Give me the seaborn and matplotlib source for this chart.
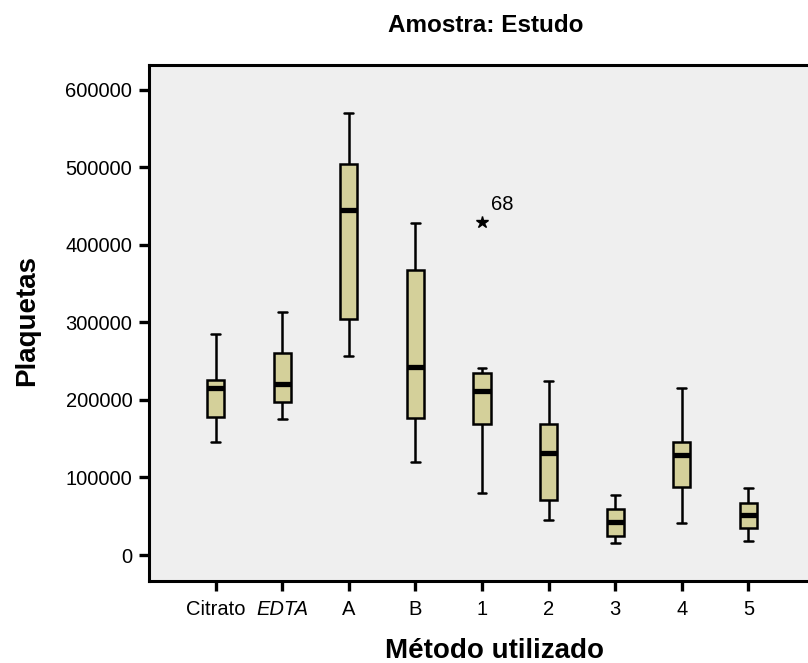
import numpy as np
import pandas as pd
import seaborn as sns
import matplotlib.pyplot as plt

# ---- data ----
methods = ["Citrato", "EDTA", "A", "B", "1", "2", "3", "4", "5"]
whisker_low = [146000, 175000, 257000, 120000, 80000, 45000, 16000, 41500, 17500]
q1 = [178000, 197000, 304500, 177000, 169000, 71000, 24500, 88000, 34600]
median = [215600, 220800, 445000, 243000, 212000, 132000, 42400, 129000, 51000]
q3 = [226000, 260000, 504000, 367700, 234800, 169000, 59000, 146000, 67000]
whisker_high = [285000, 313000, 570000, 428000, 241000, 224000, 78000, 215600, 87000]
outlier_method = ["1"]
outlier_value = [429000]
outlier_case = ["68"]
yticks = [0, 100000, 200000, 300000, 400000, 500000, 600000]

# Build a sample per group whose boxplot statistics reproduce the summary
rows = []
for m, lo, a, md, b, hi in zip(methods, whisker_low, q1, median, q3, whisker_high):
    vals = [lo, a, a, md, md, b, b, hi]
    for om, ov in zip(outlier_method, outlier_value):
        if om == m:
            vals.append(ov)
    for v in vals:
        rows.append({"Método utilizado": m, "Plaquetas": v})
df = pd.DataFrame(rows)

sns.set_style("white")
plt.rcParams["font.family"] = ["Liberation Sans", "DejaVu Sans"]
plt.rcParams["text.color"] = "black"
plt.rcParams["axes.labelcolor"] = "black"

fig = plt.figure(figsize=(8.08, 6.63), dpi=100)
W, H = 808, 663
ax = fig.add_axes([149 / W, 1 - 581 / H, 666 / W, (581 - 65) / H])
ax.set_facecolor("#EFEFEF")

sns.boxplot(
    data=df, x="Método utilizado", y="Plaquetas", order=methods,
    width=0.26, color="#D4D09A", saturation=1, linecolor="black",
    linewidth=1.8, whis=1.5, ax=ax,
    medianprops=dict(linewidth=3.8),
    flierprops=dict(marker="*", markersize=9, markerfacecolor="black",
                    markeredgecolor="black"),
)

# case label for the outlier
for om, ov, oc in zip(outlier_method, outlier_value, outlier_case):
    xi = methods.index(om)
    ax.text(xi + 0.13, ov + 23000, oc, fontsize=14.5, ha="left", va="center",
            color="black")

ax.set_xlim(-1.0, 9.0)
ax.set_ylim(-33500, 632000)
ax.set_yticks(yticks)
ax.set_yticklabels([str(v) for v in yticks])

for s in ax.spines.values():
    s.set_visible(True)
    s.set_color("black")
    s.set_linewidth(2.2)

ax.tick_params(axis="both", direction="out", length=7, width=2.4,
               labelsize=14.5, colors="black", left=True, bottom=True)
ax.tick_params(axis="y", pad=5)
ax.tick_params(axis="x", pad=7)
ax.get_xticklabels()[1].set_style("italic")

ax.set_xlabel("Método utilizado", fontsize=20, fontweight="bold", va="center",
              color="black")
ax.xaxis.set_label_coords((495 - 149) / 666, (581 - 651) / 516)
ax.set_ylabel("Plaquetas", fontsize=20, fontweight="bold", va="center",
              color="black")
ax.yaxis.set_label_coords((27 - 149) / 666, (581 - 320) / 516)

fig.text(486 / W, 1 - 25 / H, "Amostra: Estudo", fontsize=17.5,
         fontweight="bold", ha="center", va="center", color="black")

fig.savefig("out.png", dpi=100)
